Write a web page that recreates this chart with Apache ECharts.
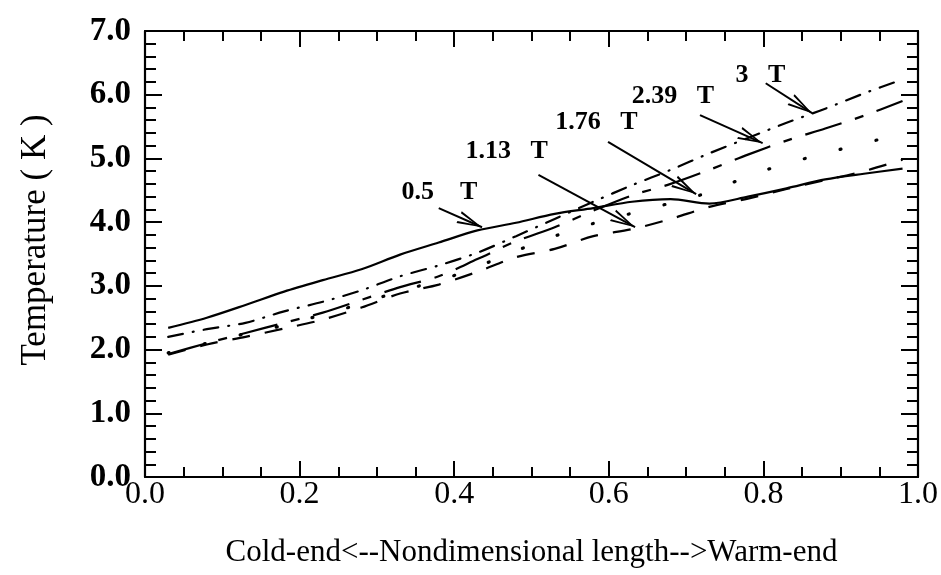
<!DOCTYPE html>
<html>
<head>
<meta charset="utf-8">
<script src="https://cdn.jsdelivr.net/npm/echarts@6/dist/echarts.min.js"></script>
<style>
html,body{margin:0;padding:0;background:#fff;}
#chart{width:941px;height:575px;}
</style>
</head>
<body>
<div id="chart"></div>
<script>
// ---- data ----
const xPositions = [0.03, 0.08, 0.13, 0.18, 0.23, 0.28, 0.33, 0.38, 0.43, 0.48, 0.53, 0.58, 0.63, 0.68, 0.73, 0.78, 0.83, 0.88, 0.93, 0.98];
const temp05T  = [2.34, 2.50, 2.70, 2.91, 3.09, 3.26, 3.49, 3.68, 3.87, 3.99, 4.13, 4.22, 4.32, 4.36, 4.29, 4.40, 4.53, 4.67, 4.76, 4.84];
const temp113T = [1.92, 2.08, 2.20, 2.33, 2.47, 2.66, 2.88, 3.02, 3.22, 3.45, 3.58, 3.78, 3.89, 4.05, 4.24, 4.37, 4.52, 4.66, 4.80, 4.98];
const temp176T = [1.95, 2.10, 2.25, 2.38, 2.55, 2.72, 2.92, 3.08, 3.30, 3.55, 3.78, 3.98, 4.14, 4.30, 4.47, 4.72, 4.92, 5.08, 5.24, 5.38];
const temp239T = [1.93, 2.10, 2.26, 2.42, 2.58, 2.78, 2.98, 3.15, 3.42, 3.70, 3.92, 4.18, 4.42, 4.60, 4.82, 5.06, 5.28, 5.47, 5.67, 5.90];
const temp3T   = [2.20, 2.32, 2.42, 2.60, 2.75, 2.93, 3.15, 3.32, 3.52, 3.78, 4.05, 4.32, 4.58, 4.82, 5.08, 5.32, 5.56, 5.78, 6.02, 6.24];
const seriesNames = ['0.5 T', '1.13 T', '1.76 T', '2.39 T', '3 T'];
const labelTexts = ['0.5    T', '1.13   T', '1.76   T', '2.39   T', '3   T'];
const xTickLabels = ['0.0', '0.2', '0.4', '0.6', '0.8', '1.0'];
const yTickLabels = ['0.0', '1.0', '2.0', '3.0', '4.0', '5.0', '6.0', '7.0'];
const xTitle = 'Cold-end<--Nondimensional length-->Warm-end';
const yTitle = 'Temperature ( K )';

// annotation anchor points in data units: [label x, label y, arrow start x, y, arrow end x, y]
const annotationPoints = [
  [0.381, 4.47, 0.380, 4.22, 0.436, 3.92],
  [0.468, 5.12, 0.509, 4.74, 0.634, 3.92],
  [0.584, 5.56, 0.599, 5.26, 0.713, 4.44],
  [0.683, 5.98, 0.718, 5.68, 0.799, 5.24],
  [0.796, 6.31, 0.803, 6.18, 0.863, 5.71]
];

// ---- styles ----
const SERIF = '"Liberation Serif", "Times New Roman", serif';
const lineTypes = [
  {type: 'solid', width: 2.2, cap: 'butt'},
  {type: [18, 15], width: 2.2, cap: 'butt'},
  {type: [1, 36], width: 3.2, cap: 'round'},
  {type: [38, 14, 9, 14], width: 2.2, cap: 'butt'},
  {type: [15, 10, 1, 10], width: 2.2, cap: 'round'}
];
const allTemps = [temp05T, temp113T, temp176T, temp239T, temp3T];
const chevron = 'path://M6,0 M6,24 L12,48 L10,48 L6,30 L2,48 L0,48 Z';

const series = allTemps.map((vals, i) => {
  const a = annotationPoints[i];
  return {
    name: seriesNames[i],
    type: 'line',
    xAxisIndex: 0,
    yAxisIndex: 0,
    data: xPositions.map((x, j) => [x, vals[j]]),
    showSymbol: false,
    symbol: 'none',
    smooth: 0.3,
    lineStyle: {color: '#000', width: lineTypes[i].width, type: lineTypes[i].type, cap: lineTypes[i].cap},
    z: 3,
    markLine: {
      silent: true,
      animation: false,
      symbol: ['none', 'none'],
      label: {show: false},
      lineStyle: {color: '#000', width: 2, type: 'solid'},
      data: [[
        {coord: [a[2], a[3]], symbol: 'none'},
        {coord: [a[4], a[5]], symbol: chevron, symbolSize: [13, 50], symbolKeepAspect: false}
      ]]
    },
    markPoint: {
      silent: true,
      animation: false,
      symbol: 'circle',
      symbolSize: 0,
      itemStyle: {color: 'rgba(0,0,0,0)'},
      label: {
        show: true,
        position: 'inside',
        formatter: labelTexts[i].replace(/ /g, '\u00a0'),
        color: '#000',
        fontFamily: SERIF,
        fontWeight: 'bold',
        fontSize: 26
      },
      data: [{coord: [a[0], a[1]], value: 0}]
    }
  };
});

const xAxisBase = {
  type: 'value', min: 0, max: 1, interval: 0.2,
  axisLine: {show: true, onZero: false, lineStyle: {color: '#000', width: 2.2}},
  axisTick: {show: true, inside: true, length: 16, lineStyle: {color: '#000', width: 2}},
  minorTick: {show: true, splitNumber: 4, length: 10, lineStyle: {color: '#000', width: 2}},
  splitLine: {show: false},
  minorSplitLine: {show: false}
};
const yAxisBase = {
  type: 'value', min: 0, max: 7, interval: 1,
  axisLine: {show: true, onZero: false, lineStyle: {color: '#000', width: 2.2}},
  axisTick: {show: true, inside: true, length: 17, lineStyle: {color: '#000', width: 2}},
  minorTick: {show: true, splitNumber: 5, length: 11, lineStyle: {color: '#000', width: 2}},
  splitLine: {show: false},
  minorSplitLine: {show: false}
};

const option = {
  animation: false,
  backgroundColor: '#fff',
  grid: {left: 145, right: 20, top: 31, bottom: 98, containLabel: false},
  xAxis: [
    Object.assign({}, xAxisBase, {
      position: 'bottom',
      axisLabel: {
        show: true, margin: 2, color: '#000', fontFamily: SERIF, fontSize: 32,
        formatter: v => xTickLabels[Math.round(v / 0.2)]
      },
      name: xTitle, nameLocation: 'middle', nameGap: 60,
      nameTextStyle: {color: '#000', fontFamily: SERIF, fontSize: 31}
    }),
    Object.assign({}, xAxisBase, {position: 'top', axisLabel: {show: false}})
  ],
  yAxis: [
    Object.assign({}, yAxisBase, {
      position: 'left',
      axisLabel: {
        show: true, margin: 14, color: '#000', fontFamily: SERIF, fontSize: 33, fontWeight: 'bold',
        padding: [0, 0, 10, 0],
        formatter: v => yTickLabels[Math.round(v)]
      },
      name: yTitle, nameLocation: 'middle', nameGap: 92, nameRotate: 90,
      nameTextStyle: {color: '#000', fontFamily: SERIF, fontSize: 35, padding: [0, 0, 0, 28]}
    }),
    Object.assign({}, yAxisBase, {position: 'right', axisLabel: {show: false}})
  ],
  series: series
};

const chart = echarts.init(document.getElementById('chart'), null, {renderer: 'canvas'});
chart.setOption(option);
</script>
</body>
</html>
